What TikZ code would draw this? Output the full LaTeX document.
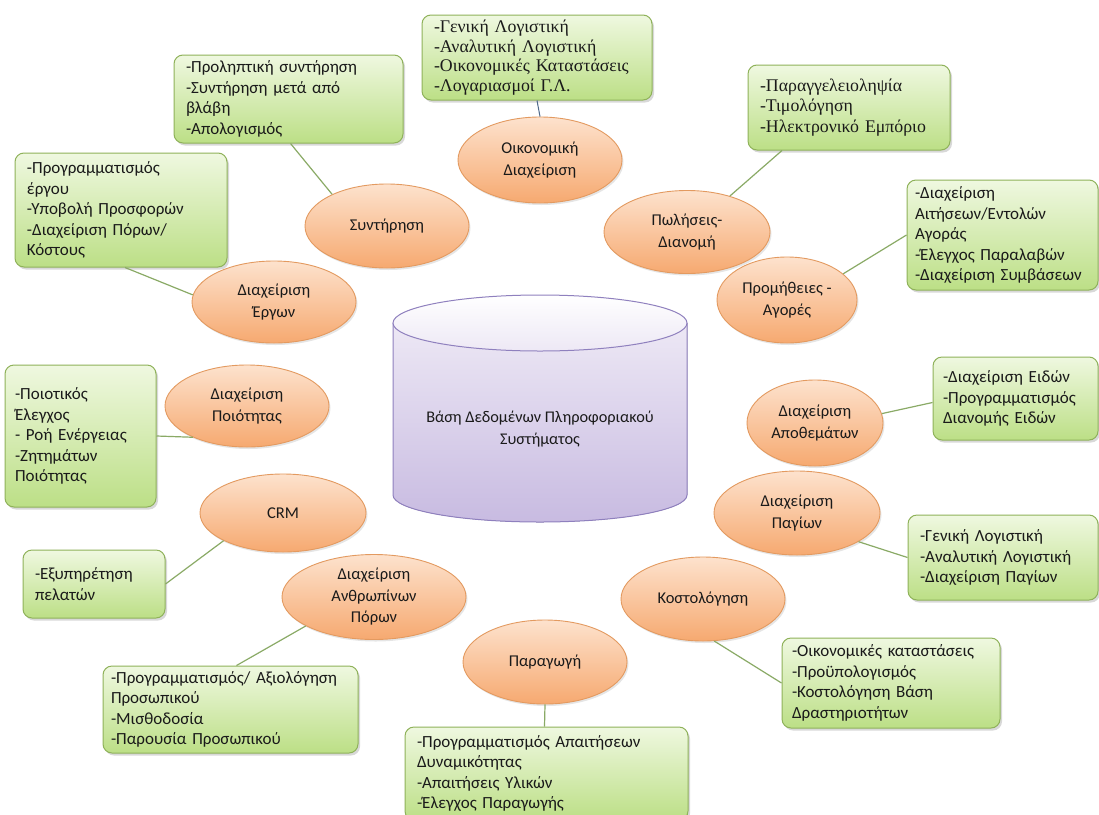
\documentclass[tikz,border=0pt]{standalone}
\usepackage{fontspec}
\setmainfont{Carlito}
\newfontfamily\grserif{Liberation Serif}
\usetikzlibrary{shapes.geometric,shadows}
\definecolor{gborder}{HTML}{8FB25A}
\definecolor{gtop}{HTML}{EFF8E0}
\definecolor{gbot}{HTML}{BCDF86}
\definecolor{otop}{HTML}{FDE2CD}
\definecolor{obot}{HTML}{F6A970}
\definecolor{oborder}{HTML}{E39A60}
\definecolor{ptop}{HTML}{EDE8F5}
\definecolor{pbot}{HTML}{C8BBE1}
\definecolor{pborder}{HTML}{8F80BE}
\definecolor{conncol}{HTML}{8AAA66}
\definecolor{fincol}{HTML}{4F6A8C}
\definecolor{txt}{HTML}{1A1A1A}
\begin{document}
\begin{tikzpicture}[x=1pt,y=-1pt,
  gbox/.style={draw=gborder, line width=1pt, rounded corners=9pt,
    top color=gtop, bottom color=gbot, inner xsep=12pt, inner ysep=0pt,
    align=left, font=\fontsize{17}{20.5}\selectfont, text=txt,
    drop shadow={shadow xshift=2pt, shadow yshift=-2.5pt, opacity=0.3}},
  oval/.style={ellipse, draw=oborder, line width=0.9pt,
    top color=otop, bottom color=obot, inner sep=0pt, align=center,
    font=\fontsize{16.5}{21.5}\selectfont, text=txt,
    drop shadow={shadow xshift=1.5pt, shadow yshift=-2pt, opacity=0.2}},
  link/.style={draw=conncol, line width=1.2pt}]
\useasboundingbox (0,0) rectangle (1099,814);
\clip (0,0) rectangle (1099,814);
\fill[white] (0,0) rectangle (1099,814);

% database cylinder
\fill[top color=ptop, bottom color=pbot] (393,323) -- (393,495)
  arc[start angle=180, end angle=0, x radius=147, y radius=27] -- (687,323) -- cycle;
\draw[pborder, line width=1pt] (393,323) -- (393,495)
  arc[start angle=180, end angle=0, x radius=147, y radius=27] -- (687,323);
\draw[pborder, line width=1pt, top color=white, bottom color=ptop] (540,323) ellipse[x radius=147, y radius=28];
\node[font=\fontsize{16.3}{22}\selectfont, text=txt, align=center] (db) at (540,429)
  {Βάση Δεδομένων Πληροφοριακού\\Συστήματος};

% green boxes
\node[gbox, minimum width=229pt, minimum height=88pt, text width=205pt] (maint) at (288.5,99)
  {-Προληπτική συντήρηση\\-Συντήρηση μετά από\\βλάβη\\-Απολογισμός};
\node[gbox, minimum width=212pt, minimum height=114pt, text width=188pt] (proj) at (121,210)
  {-Προγραμματισμός\\έργου\\-Υποβολή Προσφορών\\-Διαχείριση Πόρων/\\Κόστους};
\node[gbox, minimum width=230pt, minimum height=85pt, text width=206pt, inner xsep=12pt,
  font=\grserif\fontsize{17.8}{19.5}\selectfont] (fin) at (537,57.5)
  {-Γενική Λογιστική\\-Αναλυτική Λογιστική\\-Οικονομικές Καταστάσεις\\-Λογαριασμοί Γ.Λ.};
\node[gbox, minimum width=202pt, minimum height=85pt, text width=178pt,
  font=\grserif\fontsize{17.8}{20.5}\selectfont] (sales) at (849,107.5)
  {-Παραγγελειοληψία\\-Τιμολόγηση\\-Ηλεκτρονικό Εμπόριο};
\node[gbox, minimum width=191pt, minimum height=110pt, text width=175pt, inner xsep=8pt] (proc) at (1002.5,235)
  {-Διαχείριση\\Αιτήσεων/Εντολών\\Αγοράς\\-Έλεγχος Παραλαβών\\-Διαχείριση Συμβάσεων};
\node[gbox, minimum width=165pt, minimum height=83pt, text width=145pt, inner xsep=10pt] (inv) at (1015.5,398.5)
  {-Διαχείριση Ειδών\\-Προγραμματισμός\\Διανομής Ειδών};
\node[gbox, minimum width=190pt, minimum height=85pt, text width=166pt] (fixed) at (1003,557.5)
  {-Γενική Λογιστική\\-Αναλυτική Λογιστική\\-Διαχείριση Παγίων};
\node[gbox, minimum width=218pt, minimum height=90pt, text width=198pt, inner xsep=10pt] (cost) at (891,683)
  {-Οικονομικές καταστάσεις\\-Προϋπολογισμός\\-Κοστολόγηση Βάση\\Δραστηριοτήτων};
\node[gbox, minimum width=283pt, minimum height=93pt, text width=259pt] (prod) at (546.5,773.5)
  {-Προγραμματισμός Απαιτήσεων\\Δυναμικότητας\\-Απαιτήσεις Υλικών\\-Έλεγχος Παραγωγής};
\node[gbox, minimum width=255pt, minimum height=87pt, text width=239pt, inner xsep=8pt] (hr) at (230.5,709.5)
  {-Προγραμματισμός/ Αξιολόγηση\\Προσωπικού\\-Μισθοδοσία\\-Παρουσία Προσωπικού};
\node[gbox, minimum width=142pt, minimum height=68pt, text width=118pt] (crmB) at (94,584)
  {-Εξυπηρέτηση\\πελατών};
\node[gbox, minimum width=151pt, minimum height=142pt, text width=131pt, inner xsep=10pt] (qualB) at (80.5,436)
  {-Ποιοτικός\\Έλεγχος\\- Ροή Ενέργειας\\-Ζητημάτων\\Ποιότητας};

% orange ellipses
\node[oval, minimum width=164pt, minimum height=86pt] (oik) at (540,160) {Οικονομική\\Διαχείριση};
\node[oval, minimum width=164pt, minimum height=84pt] (sunt) at (387,226) {Συντήρηση};
\node[oval, minimum width=166pt, minimum height=83pt] (pol) at (687,232) {Πωλήσεις-\\Διανομή};
\node[oval, minimum width=164pt, minimum height=82pt] (erg) at (274,302) {Διαχείριση\\Έργων};
\node[oval, minimum width=140pt, minimum height=86pt] (prom) at (787,300) {Προμήθειες -\\Αγορές};
\node[oval, minimum width=164pt, minimum height=82pt] (qualE) at (247,406) {Διαχείριση\\Ποιότητας};
\node[oval, minimum width=136pt, minimum height=86pt, inner sep=-3pt] (apo) at (815,423) {Διαχείριση\\Αποθεμάτων};
\node[oval, minimum width=166pt, minimum height=78pt] (crmE) at (283,513) {CRM};
\node[oval, minimum width=166pt, minimum height=84pt] (pag) at (797,513) {Διαχείριση\\Παγίων};
\node[oval, minimum width=184pt, minimum height=85pt, inner sep=-7pt] (anth) at (374,597) {Διαχείριση\\Ανθρωπίνων\\Πόρων};
\node[oval, minimum width=164pt, minimum height=84pt] (kost) at (703,599) {Κοστολόγηση};
\node[oval, minimum width=164pt, minimum height=84pt] (paragE) at (545,662) {Παραγωγή};

% connectors
\draw[link] ([xshift=2pt]maint.south) -- (sunt.150);
\draw[link] ([xshift=4pt]proj.south) -- (erg.175);
\draw[link, draw=fincol, line width=1pt] (fin.south) -- (oik.north);
\draw[link] ([xshift=-67pt]sales.south) -- (pol.40);
\draw[link] (proc.west) -- (prom.25);
\draw[link] (apo.8) -- ([yshift=-4pt]inv.west);
\draw[link] (pag.-25) -- (fixed.west);
\draw[link] (kost.-75) -- (cost.west);
\draw[link] (paragE.south) -- ([xshift=-2pt]prod.north);
\draw[link] (anth.-157) -- ([xshift=6pt]hr.north);
\draw[link] (crmE.-155) -- (crmB.east);
\draw[link] (qualE.-150) -- (qualB.east);
\end{tikzpicture}
\end{document}
